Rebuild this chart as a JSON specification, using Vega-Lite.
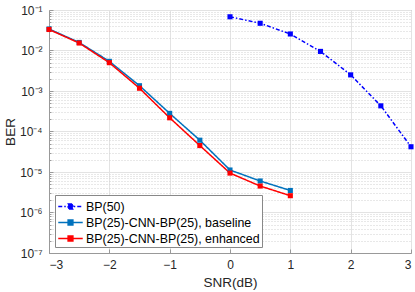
{
  "$schema": "https://vega.github.io/schema/vega-lite/v6.json",
  "autosize": {"type": "none"},
  "padding": {"left": 49, "top": 10, "right": 4, "bottom": 39},
  "width": 362,
  "height": 243,
  "background": "white",
  "config": {
    "font": "Liberation Sans",
    "view": {"stroke": "#999999", "strokeWidth": 1},
    "axis": {"domainColor": "#999999", "tickColor": "#999999", "labelColor": "#262626", "titleColor": "#262626", "labelFontSize": 12, "titleFontSize": 13.5, "titleFontWeight": "normal"}
  },
  "data": {
    "values": [
      {"series": "BP(50)", "snr": 0, "ber": 0.068},
      {"series": "BP(50)", "snr": 0.5, "ber": 0.047},
      {"series": "BP(50)", "snr": 1, "ber": 0.0256},
      {"series": "BP(50)", "snr": 1.5, "ber": 0.0095},
      {"series": "BP(50)", "snr": 2, "ber": 0.0025},
      {"series": "BP(50)", "snr": 2.5, "ber": 0.00043},
      {"series": "BP(50)", "snr": 3, "ber": 0.000042},
      {"series": "BP(25)-CNN-BP(25), baseline", "snr": -3, "ber": 0.034},
      {"series": "BP(25)-CNN-BP(25), baseline", "snr": -2.5, "ber": 0.0158},
      {"series": "BP(25)-CNN-BP(25), baseline", "snr": -2, "ber": 0.0054},
      {"series": "BP(25)-CNN-BP(25), baseline", "snr": -1.5, "ber": 0.00135},
      {"series": "BP(25)-CNN-BP(25), baseline", "snr": -1, "ber": 0.00028},
      {"series": "BP(25)-CNN-BP(25), baseline", "snr": -0.5, "ber": 0.000061},
      {"series": "BP(25)-CNN-BP(25), baseline", "snr": 0, "ber": 0.0000112},
      {"series": "BP(25)-CNN-BP(25), baseline", "snr": 0.5, "ber": 0.000006},
      {"series": "BP(25)-CNN-BP(25), baseline", "snr": 1, "ber": 0.0000035},
      {"series": "BP(25)-CNN-BP(25), enhanced", "snr": -3, "ber": 0.033},
      {"series": "BP(25)-CNN-BP(25), enhanced", "snr": -2.5, "ber": 0.0153},
      {"series": "BP(25)-CNN-BP(25), enhanced", "snr": -2, "ber": 0.005},
      {"series": "BP(25)-CNN-BP(25), enhanced", "snr": -1.5, "ber": 0.00117},
      {"series": "BP(25)-CNN-BP(25), enhanced", "snr": -1, "ber": 0.000218},
      {"series": "BP(25)-CNN-BP(25), enhanced", "snr": -0.5, "ber": 0.000045},
      {"series": "BP(25)-CNN-BP(25), enhanced", "snr": 0, "ber": 0.0000094},
      {"series": "BP(25)-CNN-BP(25), enhanced", "snr": 0.5, "ber": 0.0000045},
      {"series": "BP(25)-CNN-BP(25), enhanced", "snr": 1, "ber": 0.0000026}
    ]
  },
  "mark": {"type": "line", "strokeWidth": 1.5, "point": {"shape": "square", "filled": true, "size": 26, "opacity": 1}},
  "encoding": {
    "x": {
      "field": "snr", "type": "quantitative", "title": "SNR(dB)",
      "scale": {"domain": [-3, 3], "nice": false, "zero": false},
      "axis": {"values": [-3, -2, -1, 0, 1, 2, 3], "format": "d", "grid": true, "gridColor": "#e3e3e3", "tickSize": -4, "labelPadding": 10, "titlePadding": 5}
    },
    "y": {
      "field": "ber", "type": "quantitative", "title": "BER",
      "scale": {"type": "log", "domain": [1e-7, 0.1], "nice": false},
      "axis": {
        "values": [1e-7, 2e-7, 3e-7, 4e-7, 5e-7, 6e-7, 7e-7, 8e-7, 9e-7,
                   1e-6, 2e-6, 3e-6, 4e-6, 5e-6, 6e-6, 7e-6, 8e-6, 9e-6,
                   1e-5, 2e-5, 3e-5, 4e-5, 5e-5, 6e-5, 7e-5, 8e-5, 9e-5,
                   1e-4, 2e-4, 3e-4, 4e-4, 5e-4, 6e-4, 7e-4, 8e-4, 9e-4,
                   1e-3, 2e-3, 3e-3, 4e-3, 5e-3, 6e-3, 7e-3, 8e-3, 9e-3,
                   1e-2, 2e-2, 3e-2, 4e-2, 5e-2, 6e-2, 7e-2, 8e-2, 9e-2, 1e-1],
        "labelExpr": "abs(log(datum.value)/LN10 - round(log(datum.value)/LN10)) > 0.001 ? '' : '10' + ['⁻⁷','⁻⁶','⁻⁵','⁻⁴','⁻³','⁻²','⁻¹'][round(log(datum.value)/LN10)+7]",
        "grid": true,
        "gridColor": {"condition": {"test": "abs(log(datum.value)/LN10 - round(log(datum.value)/LN10)) > 0.001", "value": "#d0d0d0"}, "value": "#e3e3e3"},
        "gridDash": {"condition": {"test": "abs(log(datum.value)/LN10 - round(log(datum.value)/LN10)) > 0.001", "value": [1, 2]}, "value": []},
        "tickSize": {"condition": {"test": "abs(log(datum.value)/LN10 - round(log(datum.value)/LN10)) > 0.001", "value": -2}, "value": -4},
        "labelPadding": 11,
        "labelFlush": false,
        "labelOverlap": false,
        "titlePadding": 2
      }
    },
    "color": {
      "field": "series", "type": "nominal", "title": null,
      "scale": {"domain": ["BP(50)", "BP(25)-CNN-BP(25), baseline", "BP(25)-CNN-BP(25), enhanced"], "range": ["#0000ff", "#0072bd", "#ff0000"]},
      "legend": {
        "orient": "bottom-left", "offset": 6,
        "fillColor": "white", "strokeColor": "#888888", "padding": 2, "cornerRadius": 0,
        "symbolType": "M-1.44,0H1.44M-0.28,-0.28H0.28V0.28H-0.28Z",
        "symbolSize": 289, "symbolStrokeWidth": 1.5, "symbolOffset": 4,
        "labelFontSize": 12.4, "labelColor": "#000000", "labelOffset": 6, "labelLimit": 300, "rowPadding": 0,
        "encode": {"symbols": {"update": {"fill": {"scale": "color", "field": "value"}, "opacity": {"value": 1}}}}
      }
    },
    "strokeDash": {
      "field": "series", "type": "nominal", "title": null,
      "scale": {"domain": ["BP(50)", "BP(25)-CNN-BP(25), baseline", "BP(25)-CNN-BP(25), enhanced"], "range": [[4, 2, 1.5, 2], [1, 0], [1, 0]]}
    }
  }
}
